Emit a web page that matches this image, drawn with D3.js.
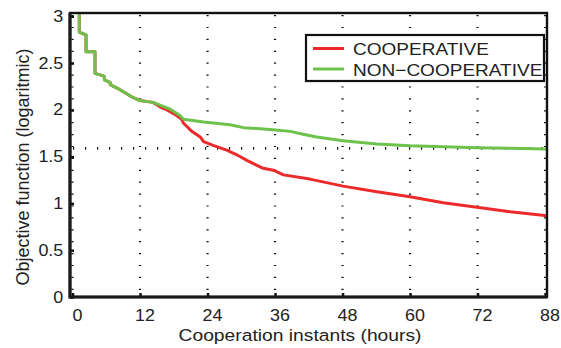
<!DOCTYPE html>
<html lang="en">
  <head>
    <meta charset="UTF-8" />
    <title>Objective function vs cooperation instants</title>
    <style>
      body {
        margin: 0;
        background: #fff;
        font-family: "Liberation Sans", Arial, sans-serif;
      }
      text {
        fill: #222;
      }
    </style>
  </head>
  <body>
    <div id="chart"></div>
    <script src="https://d3js.org/d3.v7.min.js"></script>
    <script>
      // data: [hour, objective value]
      const nonCoop = [
        [1.2, 3.3], [1.2, 2.83], [2.4, 2.8], [2.4, 2.62], [4.0, 2.62],
        [4.0, 2.39], [5.6, 2.36], [5.7, 2.32], [6.7, 2.29], [6.7, 2.27],
        [8.0, 2.23], [10.8, 2.13], [12.0, 2.1], [14.3, 2.08], [16.8, 2.02],
        [17.3, 2.01], [19.1, 1.94], [19.7, 1.9], [23.3, 1.87], [28.0, 1.84],
        [30.4, 1.81], [35.1, 1.79], [38.7, 1.77], [41.0, 1.74], [43.4, 1.71],
        [48.1, 1.67], [54.1, 1.635], [60.0, 1.616], [65.9, 1.606],
        [71.9, 1.595], [77.8, 1.589], [84.4, 1.581]
      ];
      const coop = [
        [1.2, 3.3], [1.2, 2.83], [2.4, 2.8], [2.4, 2.62], [4.0, 2.62],
        [4.0, 2.39], [5.6, 2.36], [5.7, 2.32], [6.7, 2.29], [6.7, 2.27],
        [8.0, 2.23], [10.8, 2.13], [12.0, 2.1], [14.3, 2.08], [15.6, 2.03],
        [16.8, 2.0], [18.5, 1.94], [19.4, 1.9], [19.7, 1.86], [21.2, 1.77],
        [22.7, 1.71], [23.3, 1.66], [25.0, 1.62], [27.4, 1.57], [29.2, 1.52],
        [31.0, 1.46], [32.7, 1.41], [33.9, 1.375], [35.7, 1.355],
        [37.5, 1.305], [42.2, 1.26], [48.1, 1.185], [54.1, 1.125],
        [60.0, 1.072], [65.9, 1.007], [71.9, 0.958], [77.8, 0.911],
        [84.4, 0.869]
      ];
      const refLevel = 1.588;
      const xTicks = [0, 12, 24, 36, 48, 60, 72, 84];
      const xTickLabels = ["0", "12", "24", "36", "48", "60", "72", "88"];
      const yTicks = [0, 0.5, 1, 1.5, 2, 2.5, 3];
      const yTickLabels = ["0", "0.5", "1", "1.5", "2", "2.5", "3"];
      const seriesNames = ["COOPERATIVE", "NON\u2212COOPERATIVE"];
      const seriesColors = ["#ec2a2c", "#6dc24c"];

      const width = 561;
      const height = 348;
      const m = { left: 70, right: 547, top: 13, bottom: 297 };
      const stretch = "scale(1.12,1)";

      const svg = d3
        .select("#chart")
        .append("svg")
        .attr("width", width)
        .attr("height", height);

      const x = d3.scaleLinear().domain([-0.45, 84.35]).range([m.left, m.right]);
      const y = d3.scaleLinear().domain([0, 3.035]).range([m.bottom, m.top]);

      svg
        .append("clipPath")
        .attr("id", "plot")
        .append("rect")
        .attr("x", m.left)
        .attr("y", m.top)
        .attr("width", m.right - m.left)
        .attr("height", m.bottom - m.top);

      // dotted grid
      svg
        .append("g")
        .selectAll("line")
        .data(xTicks)
        .enter()
        .append("line")
        .attr("x1", (d) => x(d))
        .attr("x2", (d) => x(d))
        .attr("y1", m.top + 2)
        .attr("y2", m.bottom)
        .attr("stroke", "#111")
        .attr("stroke-width", 2.2)
        .attr("stroke-dasharray", "1.2,10.7");

      svg
        .append("line")
        .attr("x1", m.left + 3)
        .attr("x2", m.right)
        .attr("y1", y(refLevel))
        .attr("y2", y(refLevel))
        .attr("stroke", "#111")
        .attr("stroke-width", 2.6)
        .attr("stroke-dasharray", "1.2,10.8");

      // curves
      const line = d3
        .line()
        .x((d) => x(d[0]))
        .y((d) => y(d[1]));

      const plot = svg.append("g").attr("clip-path", "url(#plot)");
      [coop, nonCoop].forEach((s, i) => {
        plot
          .append("path")
          .datum(s)
          .attr("d", line)
          .attr("fill", "none")
          .attr("stroke", seriesColors[i])
          .attr("stroke-width", 3)
          .attr("stroke-linejoin", "round");
      });

      // axes
      const xAxis = svg
        .append("g")
        .attr("transform", `translate(0,${m.bottom})`)
        .call(
          d3
            .axisBottom(x)
            .tickValues(xTicks)
            .tickFormat((d, i) => xTickLabels[i])
            .tickSize(-4)
            .tickPadding(13)
        );
      const yAxis = svg
        .append("g")
        .attr("transform", `translate(${m.left},0)`)
        .call(
          d3
            .axisLeft(y)
            .tickValues(yTicks)
            .tickFormat((d, i) => yTickLabels[i])
            .tickSize(-4)
            .tickPadding(6)
        );
      [xAxis, yAxis].forEach((a) => {
        a.select(".domain").remove();
        a.selectAll(".tick line").attr("stroke", "#111").attr("stroke-width", 2.5);
        a.selectAll(".tick text")
          .attr("font-size", 16)
          .attr("font-family", "Liberation Sans, Arial, sans-serif")
          .attr("fill", "#222")
          .attr("transform", stretch);
      });
      xAxis.selectAll(".tick text").attr("x", 4);

      // frame
      svg
        .append("rect")
        .attr("x", m.left)
        .attr("y", m.top)
        .attr("width", m.right - m.left)
        .attr("height", m.bottom - m.top)
        .attr("fill", "none")
        .attr("stroke", "#111")
        .attr("stroke-width", 2.4);
      svg
        .append("path")
        .attr("d", `M${m.left},${m.top}V${m.bottom}H${m.right}`)
        .attr("fill", "none")
        .attr("stroke", "#1a1a1a")
        .attr("stroke-width", 3.2);

      // axis titles
      svg
        .append("text")
        .attr("transform", `translate(300,341) ${stretch}`)
        .attr("text-anchor", "middle")
        .attr("font-size", 17.2)
        .text("Cooperation instants (hours)");
      svg
        .append("text")
        .attr("transform", "translate(29,167) rotate(-90)")
        .attr("text-anchor", "middle")
        .attr("font-size", 18)
        .text("Objective function (logaritmic)");

      // legend
      const legend = svg.append("g").attr("transform", "translate(306,35)");
      legend
        .append("rect")
        .attr("width", 238)
        .attr("height", 46)
        .attr("fill", "#fff")
        .attr("stroke", "#111")
        .attr("stroke-width", 2.2);
      seriesNames.forEach((name, i) => {
        const row = legend.append("g").attr("transform", `translate(0,${13.5 + i * 20.5})`);
        row
          .append("line")
          .attr("x1", 7)
          .attr("x2", 38)
          .attr("stroke", seriesColors[i])
          .attr("stroke-width", 3);
        row
          .append("text")
          .attr("transform", `translate(47,6.5) ${stretch}`)
          .attr("font-size", 17)
          .text(name);
      });
    </script>
  </body>
</html>
